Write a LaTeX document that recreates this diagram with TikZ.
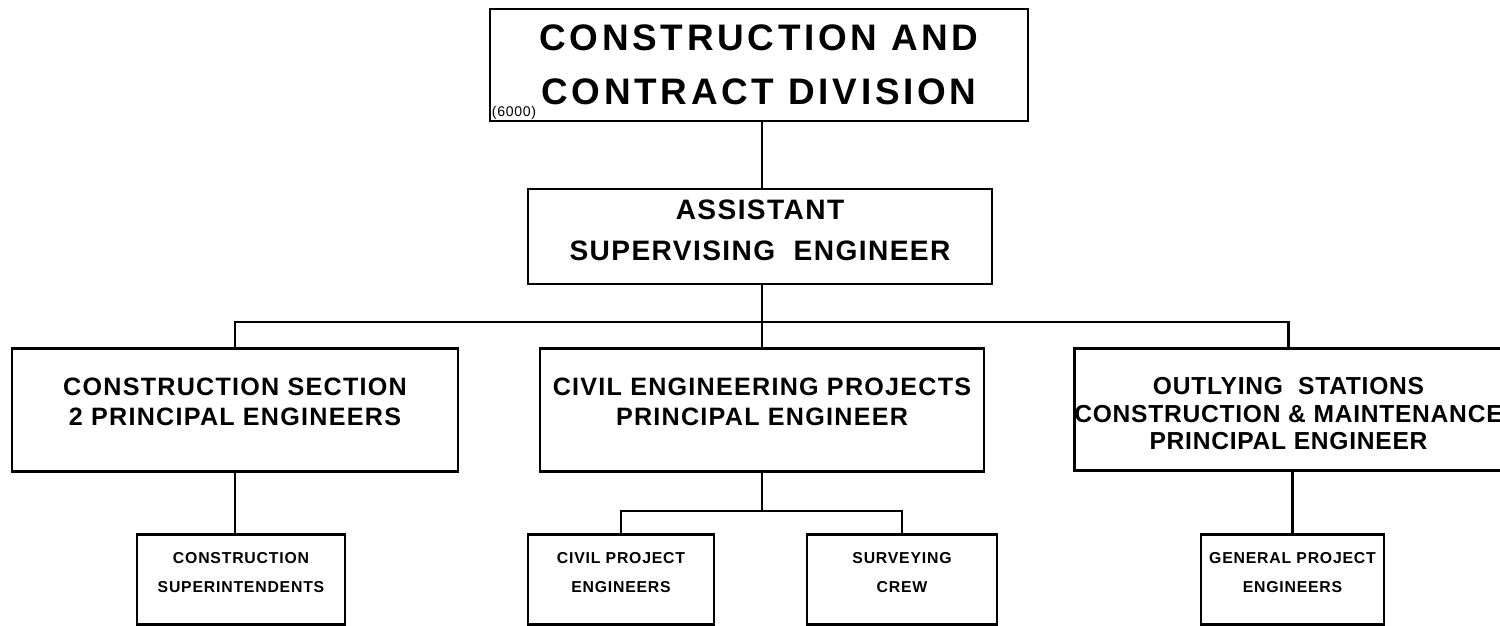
\documentclass[tikz,border=0pt]{standalone}
\usepackage{fontspec}
\usepackage{tikz}
\usetikzlibrary{positioning}
\newfontfamily\lettrage[LetterSpace=5]{Liberation Sans}
\newcommand\lignes[1]{\begin{tabular}[t]{@{}c@{}}#1\end{tabular}}

\begin{document}
\begin{tikzpicture}[
	unit/.style={draw, anchor=north, inner xsep=0pt, inner ysep=0pt},
	division/.style={unit, line width=1.2pt, minimum width=10.76cm, text height=0.82cm, text depth=1.42cm,
		font=\lettrage\bfseries\addfontfeatures{LetterSpace=10}\fontsize{21}{31.2}\selectfont},
	adjoint/.style={unit, line width=1.2pt, minimum width=9.28cm, text height=0.6cm, text depth=1.3cm,
		font=\lettrage\bfseries\fontsize{16}{23.8}\selectfont},
	section/.style={unit, line width=1.5pt, text height=0.94cm, text depth=1.52cm,
		font=\lettrage\bfseries\fontsize{14.3}{17}\selectfont},
	equipe/.style={unit, line width=1.5pt, text height=0.58cm, text depth=1.22cm,
		font=\lettrage\bfseries\fontsize{9}{16.5}\selectfont},
	lien/.style={line width=1.5pt}
	]

	% Fond et cadre
	\fill[white] (0,0) rectangle (30,12.5);
	\useasboundingbox (0,0) rectangle (30,12.5);

	% Direction
	\node[division] (ccd) at (15.18,12.34) {\lignes{CONSTRUCTION AND\\CONTRACT DIVISION}};
	\node[anchor=south west, inner sep=1.5pt, font=\lettrage\fontsize{8}{9}\selectfont] (code) at (ccd.south west) {(6000)};
	\node[adjoint] (ase) at (15.20,8.74) {\lignes{ASSISTANT\\SUPERVISING\ \ ENGINEER}};

	% Les sections
	\node[section, minimum width=8.92cm] (cs) at (4.70,5.56) {\lignes{CONSTRUCTION SECTION\\2 PRINCIPAL ENGINEERS}};
	\node[section, minimum width=8.88cm] (cep) at (15.24,5.56) {\lignes{CIVIL ENGINEERING PROJECTS\\PRINCIPAL ENGINEER}};
	\node[section, minimum width=8.54cm, text height=0.92cm,
		font=\lettrage\bfseries\addfontfeatures{LetterSpace=3}\fontsize{14}{15.8}\selectfont] (os) at (25.77,5.56)
		{\lignes{OUTLYING\ \ STATIONS\\CONSTRUCTION \& MAINTENANCE\\PRINCIPAL ENGINEER}};

	% Les equipes
	\node[equipe, minimum width=4.16cm] (supt) at (4.82,1.84) {\lignes{CONSTRUCTION\\SUPERINTENDENTS}};
	\node[equipe, minimum width=3.72cm] (civ) at (12.42,1.84) {\lignes{CIVIL PROJECT\\ENGINEERS}};
	\node[equipe, minimum width=3.80cm] (srv) at (18.04,1.84) {\lignes{SURVEYING\\CREW}};
	\node[equipe, minimum width=3.66cm] (gpe) at (25.85,1.84) {\lignes{GENERAL PROJECT\\ENGINEERS}};

	% Les liaisons
	\coordinate (bus) at (15.24,6.06);
	\coordinate (sub) at (15.24,2.28);
	\draw[lien] (ccd.south -| bus) -- (ase.north -| bus);
	\draw[lien] (ase.south -| bus) -- (bus);
	\draw[lien] (cs.north) |- (bus) -| (os.north);
	\draw[lien] (bus) -- (cep.north);
	\draw[lien] (cs.south) -- (cs.south |- supt.north);
	\draw[lien] (cep.south) -- (sub);
	\draw[lien] (civ.north) |- (sub) -| (srv.north);
	\draw[lien] (gpe.north |- os.south) -- (gpe.north);
\end{tikzpicture}
\end{document}
